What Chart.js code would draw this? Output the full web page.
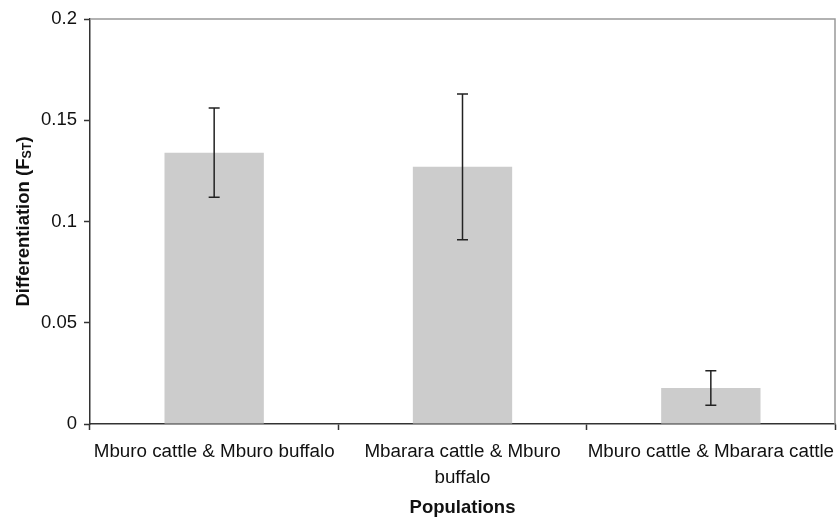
<!DOCTYPE html>
<html>
<head>
<meta charset="utf-8">
<script src="https://cdn.jsdelivr.net/npm/chart.js@4/dist/chart.umd.min.js"></script>
<style>
    html, body { margin: 0; padding: 0; background: #fff; }
    #wrap { width: 838px; height: 517px; position: relative; }
</style>
</head>
<body>
<div id="wrap"><canvas id="fst-chart"></canvas></div>
<script>
const populations = [
    'Mburo cattle & Mburo buffalo',
    ['Mbarara cattle & Mburo', 'buffalo'],
    'Mburo cattle & Mbarara cattle'
]
const fstValues = [0.134, 0.127, 0.0178]
const fstErrors = [0.022, 0.036, 0.0085]
const yTickLabels = ['0', '0.05', '0.1', '0.15', '0.2']

const fontFamily = '"Liberation Sans", Arial, Helvetica, sans-serif'

// error bars drawn on top of each bar
const errorBars = {
    id: 'errorBars',
    afterDatasetsDraw(chart) {
        const ctx = chart.ctx
        const yScale = chart.scales.y
        const meta = chart.getDatasetMeta(0)
        ctx.save()
        ctx.strokeStyle = '#222'
        ctx.lineWidth = 1.5
        meta.data.forEach((bar, i) => {
            const top = yScale.getPixelForValue(fstValues[i] + fstErrors[i])
            const bottom = yScale.getPixelForValue(fstValues[i] - fstErrors[i])
            const x = bar.x
            ctx.beginPath()
            ctx.moveTo(x, top)
            ctx.lineTo(x, bottom)
            ctx.moveTo(x - 5.5, top)
            ctx.lineTo(x + 5.5, top)
            ctx.moveTo(x - 5.5, bottom)
            ctx.lineTo(x + 5.5, bottom)
            ctx.stroke()
        })
        ctx.restore()
    }
}

// grey frame on top and right, plus the axis titles
const frameAndTitles = {
    id: 'frameAndTitles',
    afterDraw(chart) {
        const ctx = chart.ctx
        const area = chart.chartArea
        ctx.save()
        ctx.strokeStyle = '#999'
        ctx.lineWidth = 1.5
        ctx.beginPath()
        ctx.moveTo(area.left, area.top)
        ctx.lineTo(area.right, area.top)
        ctx.lineTo(area.right, area.bottom)
        ctx.stroke()

        ctx.fillStyle = '#111'
        ctx.textBaseline = 'middle'
        ctx.textAlign = 'center'
        ctx.font = 'bold 18.5px ' + fontFamily
        ctx.fillText('Populations', (area.left + area.right) / 2, 508)

        // y title with subscript
        ctx.translate(24, (area.top + area.bottom) / 2)
        ctx.rotate(-Math.PI / 2)
        const main = 'Differentiation (F'
        const sub = 'ST'
        const close = ')'
        ctx.font = 'bold 18.5px ' + fontFamily
        const wMain = ctx.measureText(main).width
        const wClose = ctx.measureText(close).width
        ctx.font = 'bold 12.5px ' + fontFamily
        const wSub = ctx.measureText(sub).width
        let x = -(wMain + wSub + wClose) / 2
        ctx.textAlign = 'left'
        ctx.font = 'bold 18.5px ' + fontFamily
        ctx.fillText(main, x, 0)
        x += wMain
        ctx.font = 'bold 12.5px ' + fontFamily
        ctx.fillText(sub, x, 4)
        x += wSub
        ctx.font = 'bold 18.5px ' + fontFamily
        ctx.fillText(close, x, 0)
        ctx.restore()
    }
}

const ctx = document.getElementById('fst-chart')
const chart = new Chart(ctx, {
    type: 'bar',
    data: {
        labels: populations,
        datasets: [{
            data: fstValues,
            backgroundColor: '#cccccc',
            borderWidth: 0,
            categoryPercentage: 1,
            barPercentage: 0.4
        }]
    },
    options: {
        responsive: true,
        maintainAspectRatio: false,
        animation: false,
        layout: { padding: { top: 19, right: 3, left: 0, bottom: 0 } },
        plugins: {
            legend: { display: false },
            tooltip: { enabled: false }
        },
        scales: {
            x: {
                grid: {
                    display: true,
                    drawOnChartArea: false,
                    tickLength: 6,
                    tickColor: '#333',
                    tickWidth: 1.5,
                    offset: true
                },
                border: { color: '#333', width: 1.5 },
                ticks: {
                    color: '#111',
                    font: { family: fontFamily, size: 18.8, lineHeight: 1.38 },
                    padding: 9,
                    maxRotation: 0,
                    autoSkip: false
                },
                afterFit: scale => {
                    scale.height = 93
                    scale.paddingLeft = 0
                    scale.paddingRight = 0
                }
            },
            y: {
                min: 0,
                max: 0.2,
                grid: {
                    display: true,
                    drawOnChartArea: false,
                    tickLength: 6,
                    tickColor: '#333',
                    tickWidth: 1.5
                },
                border: { color: '#333', width: 1.5 },
                ticks: {
                    stepSize: 0.05,
                    color: '#111',
                    font: { family: fontFamily, size: 18.5 },
                    padding: 7,
                    callback: (value, index) => yTickLabels[index]
                },
                afterFit: scale => {
                    scale.width = 90
                    scale.paddingTop = 0
                    scale.paddingBottom = 0
                }
            }
        }
    },
    plugins: [errorBars, frameAndTitles]
})
</script>
</body>
</html>
